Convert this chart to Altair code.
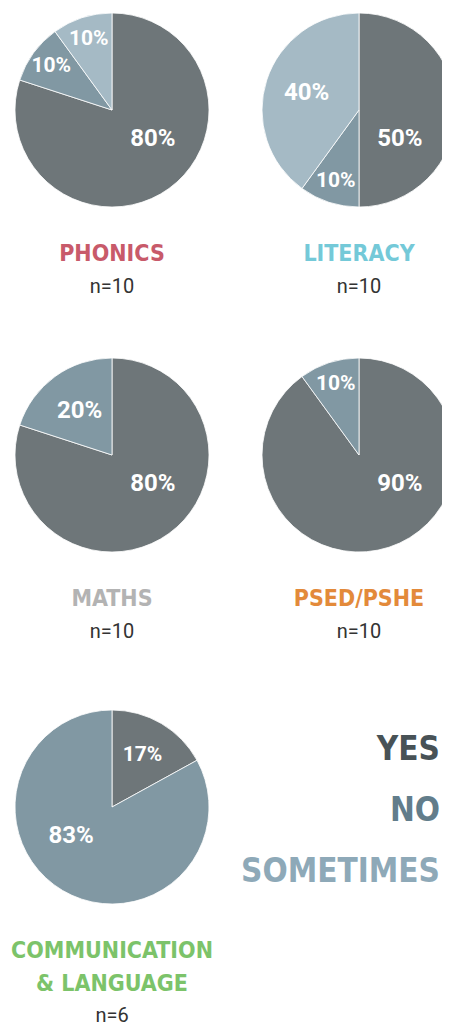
import altair as alt
import pandas as pd

# ---- data ----
subjects = ["PHONICS", "LITERACY", "MATHS", "PSED/PSHE", "COMMUNICATION & LANGUAGE"]
title_text = ["PHONICS", "LITERACY", "MATHS", "PSED/PSHE", "COMMUNICATION\n& LANGUAGE"]
responses = ["Yes", "No", "Sometimes"]
yes_pct = [80, 50, 80, 90, 17]
no_pct = [10, 10, 20, 10, 83]
sometimes_pct = [10, 40, 0, 0, 0]
n_counts = [10, 10, 10, 10, 6]
subject_colors = ["#c85a6a", "#74c9d8", "#b3b3b3", "#e38a3a", "#7cc36a"]
slice_colors = ["#6e7679", "#8198a3", "#a5bac5"]
legend_labels = ["YES", "NO", "SOMETIMES"]
legend_colors = ["#485256", "#627d8b", "#8ea9b8"]

# ---- layout (grid cell of each pie) ----
grid_col = [0, 1, 0, 1, 0]
grid_row = [0, 0, 1, 1, 2]
W, H = 434, 1021
R = 97
TITLE_FONT = "DejaVu Sans Condensed, DejaVu Sans, sans-serif"

slices = []
for i, s in enumerate(subjects):
    for k, vals in enumerate([yes_pct, no_pct, sometimes_pct]):
        if vals[i] > 0:
            slices.append({"subject": s, "response": responses[k], "pct": vals[i],
                           "order": k, "col": grid_col[i], "row": grid_row[i]})
slice_df = pd.DataFrame(slices)

titles_df = pd.DataFrame({
    "subject": subjects, "title": title_text,
    "n": [f"n={v}" for v in n_counts],
    "lines": [t.count("\n") + 1 for t in title_text],
    "col": grid_col, "row": grid_row,
})
legend_df = pd.DataFrame({"label": legend_labels, "k": list(range(len(legend_labels)))})

xs = alt.X("col:Q", scale=alt.Scale(domain=[0, 1], range=[104, 351]), axis=None)
ys = alt.Y("row:Q", scale=alt.Scale(domain=[0, 1, 2], range=[102, 447, 799]), axis=None)
theta_scale = alt.Scale(domain=[0, 100])

base = alt.Chart(slice_df).transform_window(
    end="sum(pct)", groupby=["subject"], sort=[alt.SortField("order")], frame=[None, 0]
).transform_calculate(
    start="datum.end - datum.pct",
    mid="datum.end - datum.pct / 2",
    label="datum.pct + '%'",
).transform_calculate(
    # big slices: label sits in the lower half next to the 12 o'clock edge
    lt="datum.pct >= 50 ? (datum.start == 0 ? 100 * 125 / 360 : 100 * 235 / 360) : datum.mid",
).encode(x=xs, y=ys)

arcs = base.mark_arc(radius=R, stroke="white", strokeWidth=0.8).encode(
    theta=alt.Theta("start:Q", scale=theta_scale),
    theta2="end:Q",
    color=alt.Color("response:N", scale=alt.Scale(domain=responses, range=slice_colors), legend=None),
)


def label_layer(cond, radius, size):
    return base.transform_filter(cond).mark_text(
        font="Roboto", fontWeight="bold", color="white", radius=radius, fontSize=size
    ).encode(theta=alt.Theta("lt:Q", scale=theta_scale), text="label:N")


lab_small = label_layer("datum.pct <= 10", 75, 21)
lab_mid = label_layer("datum.pct > 10 && datum.pct < 20", 60, 21)
lab_med = label_layer("datum.pct >= 20 && datum.pct < 50", 55, 24)
lab_big = label_layer("datum.pct >= 50", 50, 24)

tbase = alt.Chart(titles_df).encode(x=xs, y=ys)
titles = tbase.mark_text(
    font=TITLE_FONT, fontWeight="bold", fontSize=23, lineBreak="\n", lineHeight=33,
    baseline="alphabetic", dy=151,
).encode(
    text="title:N",
    color=alt.Color("subject:N", scale=alt.Scale(domain=subjects, range=subject_colors), legend=None),
)
n1 = tbase.transform_filter("datum.lines == 1").mark_text(
    font="Roboto", fontSize=20, color="#333333", baseline="alphabetic", dy=183
).encode(text="n:N")
n2 = tbase.transform_filter("datum.lines == 2").mark_text(
    font="Roboto", fontSize=20, color="#333333", baseline="alphabetic", dy=215
).encode(text="n:N")

legend = alt.Chart(legend_df).mark_text(
    font=TITLE_FONT, fontWeight="bold", fontSize=33, align="right", baseline="alphabetic"
).encode(
    x=alt.value(432),
    y=alt.Y("k:Q", scale=alt.Scale(domain=[0, 2], range=[752, 874]), axis=None),
    text="label:N",
    color=alt.Color("label:N", scale=alt.Scale(domain=legend_labels, range=legend_colors), legend=None),
)

pies = alt.layer(arcs, lab_small, lab_mid, lab_med, lab_big, titles, n1, n2).resolve_scale(color="independent")

chart = alt.layer(pies, legend).resolve_scale(
    color="independent", y="independent"
).properties(
    width=W, height=H, padding=0,
    autosize=alt.AutoSizeParams(type="none"),
).configure_view(stroke=None)

chart.save("out.html", embed_options={"renderer": "svg", "actions": False})
